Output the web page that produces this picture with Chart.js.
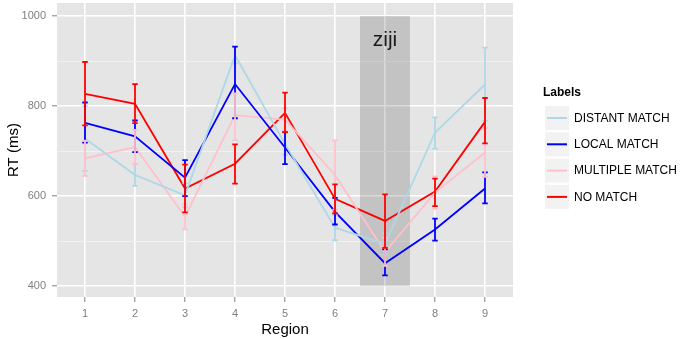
<!DOCTYPE html>
<html>
<head>
<meta charset="utf-8">
<script src="https://cdn.jsdelivr.net/npm/chart.js@4.4.1/dist/chart.umd.min.js"></script>
<style>
html, body { margin: 0; padding: 0; background: #fff; }
#wrap { width: 680px; height: 339px; }
</style>
</head>
<body>
<div id="wrap"><canvas id="rtChart"></canvas></div>
<script>
const regions = [1, 2, 3, 4, 5, 6, 7, 8, 9];
const labelNames = ["DISTANT MATCH", "LOCAL MATCH", "MULTIPLE MATCH", "NO MATCH"];
const labelColors = ["#add8e6", "#0000ff", "#ffc0cb", "#ff0000"];

const distantMean = [728, 647, 602, 913, 716, 530, 494, 741, 848];
const distantLow  = [656, 623, 575, 895, 692, 502, 470, 705, 767];
const distantHigh = [800, 671, 629, 931, 740, 558, 518, 775, 930];

const localMean = [763, 733, 641, 849, 708, 565, 451, 526, 617];
const localLow  = [719, 698, 600, 773, 671, 537, 424, 501, 584];
const localHigh = [808, 768, 680, 932, 743, 596, 482, 550, 653];

const multipleMean = [684, 709, 554, 780, 770, 647, 476, 608, 697];
const multipleLow  = [645, 671, 526, 724, 745, 570, 445, 572, 643];
const multipleHigh = [723, 747, 582, 828, 795, 724, 507, 644, 751];

const noMean = [827, 805, 617, 672, 785, 594, 545, 610, 765];
const noLow  = [757, 762, 564, 628, 742, 562, 485, 578, 717];
const noHigh = [898, 849, 670, 715, 830, 626, 604, 639, 818];

const yTicks = [400, 600, 800, 1000];
const shadeRegion = [6.5, 7.5];
const shadeRT = [400, 1000];
const shadeText = "ziji";

const means = [distantMean, localMean, multipleMean, noMean];
const lows = [distantLow, localLow, multipleLow, noLow];
const highs = [distantHigh, localHigh, multipleHigh, noHigh];

const FONT = "'Liberation Sans', Arial, sans-serif";

const datasets = labelNames.map((name, k) => ({
    label: name,
    data: regions.map((r, i) => ({ x: r, y: means[k][i] })),
    low: lows[k],
    high: highs[k],
    borderColor: labelColors[k],
    backgroundColor: labelColors[k],
    borderWidth: 1.8,
    pointRadius: 0,
    tension: 0,
    fill: false,
}));

const panelBg = {
    id: "panelBg",
    beforeDraw(chart) {
        const { ctx, chartArea: a } = chart;
        ctx.save();
        ctx.fillStyle = "#e5e5e5";
        ctx.fillRect(a.left, a.top, a.right - a.left, a.bottom - a.top);
        ctx.restore();
    },
};

const shade = {
    id: "shade",
    beforeDatasetsDraw(chart) {
        const { ctx, scales: { x, y } } = chart;
        const x0 = x.getPixelForValue(shadeRegion[0]);
        const x1 = x.getPixelForValue(shadeRegion[1]);
        const y0 = y.getPixelForValue(shadeRT[1]);
        const y1 = y.getPixelForValue(shadeRT[0]);
        ctx.save();
        ctx.fillStyle = "rgba(0,0,0,0.15)";
        ctx.fillRect(x0, y0, x1 - x0, y1 - y0);
        ctx.fillStyle = "#1a1a1a";
        ctx.font = "21px " + FONT;
        ctx.textAlign = "center";
        ctx.textBaseline = "alphabetic";
        ctx.fillText(shadeText, x.getPixelForValue(7), y.getPixelForValue(934));
        ctx.restore();
    },
};

const errorBars = {
    id: "errorBars",
    afterDatasetsDraw(chart) {
        const { ctx, scales: { x, y } } = chart;
        chart.data.datasets.forEach(ds => {
            ctx.save();
            ctx.strokeStyle = ds.borderColor;
            ctx.lineWidth = 1.8;
            ds.data.forEach((p, i) => {
                const px = x.getPixelForValue(p.x);
                const xa = x.getPixelForValue(p.x - 0.055);
                const xb = x.getPixelForValue(p.x + 0.055);
                const ylo = y.getPixelForValue(ds.low[i]);
                const yhi = y.getPixelForValue(ds.high[i]);
                ctx.beginPath();
                ctx.moveTo(px, ylo); ctx.lineTo(px, yhi);
                ctx.moveTo(xa, ylo); ctx.lineTo(xb, ylo);
                ctx.moveTo(xa, yhi); ctx.lineTo(xb, yhi);
                ctx.stroke();
            });
            ctx.restore();
        });
    },
};

const ggLegend = {
    id: "ggLegend",
    afterDraw(chart) {
        const { ctx } = chart;
        ctx.save();
        ctx.fillStyle = "#000";
        ctx.font = "bold 12px " + FONT;
        ctx.textBaseline = "middle";
        ctx.textAlign = "left";
        ctx.fillText("Labels", 543, 93);
        labelNames.forEach((name, i) => {
            const cy = 118 + i * 26.3;
            ctx.fillStyle = "#f2f2f2";
            ctx.fillRect(545, cy - 12, 24, 24);
            ctx.strokeStyle = labelColors[i];
            ctx.lineWidth = 2;
            ctx.beginPath();
            ctx.moveTo(547, cy); ctx.lineTo(567, cy);
            ctx.stroke();
            ctx.fillStyle = "#000";
            ctx.font = "12px " + FONT;
            ctx.fillText(name, 574, cy + 0.5);
        });
        ctx.restore();
    },
};

const isMajor = v => yTicks.includes(v);

new Chart(document.getElementById("rtChart"), {
    type: "line",
    data: { datasets },
    options: {
        responsive: true,
        maintainAspectRatio: false,
        animation: false,
        layout: { padding: { top: 3, right: 167, left: 0, bottom: 0 } },
        plugins: { legend: { display: false }, tooltip: { enabled: false } },
        scales: {
            x: {
                type: "linear",
                min: 0.44,
                max: 9.56,
                afterFit: s => { s.height = 42; s.paddingLeft = 0; s.paddingRight = 0; },
                border: { display: false },
                grid: { color: "#ffffff", lineWidth: 1.6, tickColor: "#7f7f7f", tickLength: 5, tickWidth: 1 },
                ticks: {
                    stepSize: 1,
                    includeBounds: false,
                    padding: 5,
                    color: "#7f7f7f",
                    font: { family: FONT, size: 11 },
                    callback: v => String(v),
                },
                title: { display: true, text: "Region", color: "#000", font: { family: FONT, size: 15 }, padding: { top: 0, bottom: 0 } },
            },
            y: {
                min: 376,
                max: 1029,
                afterFit: s => { s.width = 57; s.paddingTop = 0; s.paddingBottom = 0; },
                border: { display: false },
                grid: {
                    color: c => (c.tick && isMajor(c.tick.value) ? "#ffffff" : "#f2f2f2"),
                    lineWidth: c => (c.tick && isMajor(c.tick.value) ? 1.6 : 0.9),
                    tickColor: c => (c.tick && isMajor(c.tick.value) ? "#7f7f7f" : "rgba(0,0,0,0)"),
                    tickLength: 5,
                    tickWidth: 1,
                },
                ticks: {
                    stepSize: 100,
                    includeBounds: false,
                    padding: 6,
                    color: "#7f7f7f",
                    font: { family: FONT, size: 11 },
                    callback: v => (isMajor(v) ? String(v) : ""),
                },
                title: { display: true, text: "RT (ms)", color: "#000", font: { family: FONT, size: 15 }, padding: { top: 5, bottom: 0 } },
            },
        },
    },
    plugins: [panelBg, shade, errorBars, ggLegend],
});
</script>
</body>
</html>
